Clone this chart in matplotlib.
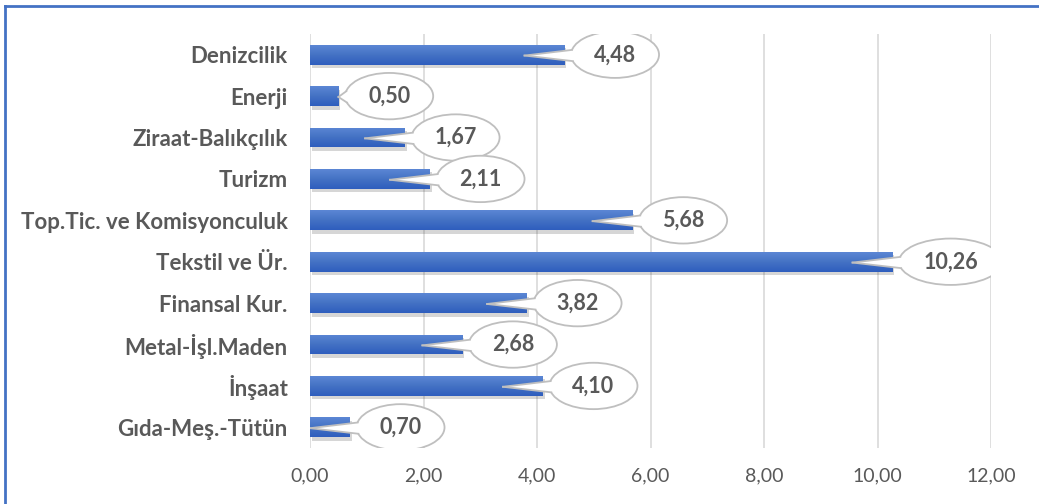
import matplotlib
matplotlib.use("Agg")
import matplotlib.pyplot as plt
import matplotlib.patheffects as pe
from matplotlib.patches import Ellipse, Polygon
from matplotlib.colors import LinearSegmentedColormap
from matplotlib.lines import Line2D
import numpy as np

# data, top to bottom as in the chart
categories = ["Denizcilik", "Enerji", "Ziraat-Balıkçılık", "Turizm",
              "Top.Tic. ve Komisyonculuk", "Tekstil ve Ür.", "Finansal Kur.",
              "Metal-İşl.Maden", "İnşaat", "Gıda-Meş.-Tütün"]
values = [4.48, 0.50, 1.67, 2.11, 5.68, 10.26, 3.82, 2.68, 4.10, 0.70]
xticks = [0, 2, 4, 6, 8, 10, 12]

plt.rcParams['font.family'] = ['Lato', 'DejaVu Sans']

fig = plt.figure(figsize=(10.39, 5.04), dpi=100)
ax = fig.add_axes([0.2984, 0.111, 0.6554, 0.8215])

ypos = np.arange(len(categories))
bars = ax.barh(ypos, values, height=0.48, color="#4270CB", zorder=2)

# vertical gradient inside each bar, light on top, darker at the bottom
grad = LinearSegmentedColormap.from_list("g", ["#5B86D4", "#4472C4", "#2F5EBE"])
for b in bars:
    b.set_path_effects([pe.SimplePatchShadow(offset=(1.5, -2.5), alpha=0.18,
                                             shadow_rgbFace="#202020"), pe.Normal()])
    x0, y0 = b.get_x(), b.get_y()
    im = ax.imshow(np.linspace(0, 1, 32).reshape(-1, 1), cmap=grad, aspect="auto",
                   extent=(x0, x0 + b.get_width(), y0 + b.get_height(), y0),
                   origin="upper", zorder=3)
    im.set_clip_path(b)

ax.set_xlim(0, 12)
ax.set_ylim(len(categories) - 0.5, -0.5)
ax.set_xticks(xticks)
ax.set_xticklabels([f"{t:.2f}".replace(".", ",") for t in xticks])
ax.set_yticks(ypos)
ax.set_yticklabels(categories, fontweight="bold")
ax.tick_params(axis="x", length=0, labelsize=14, colors="#595959", pad=14)
ax.tick_params(axis="y", length=0, labelsize=16, colors="#595959", pad=16)
ax.grid(axis="x", color="#D9D9D9", lw=1.2, zorder=0)
for s in ax.spines.values():
    s.set_visible(False)

# callout bubbles
h = 1.12
for y, v in zip(ypos, values):
    txt = f"{v:.2f}".replace(".", ",")
    w = 1.55 if len(txt) <= 4 else 1.82
    cx = v + 0.12 + w / 2
    tipx = v - 0.7 if v - 0.7 >= 0 else v
    tip = (tipx, y + 0.02)
    a1, a2 = np.radians(168), np.radians(196)
    p1 = (cx + w / 2 * np.cos(a1), y - h / 2 * np.sin(a1))
    p2 = (cx + w / 2 * np.cos(a2), y - h / 2 * np.sin(a2))
    ell = Ellipse((cx, y), w, h, facecolor="white", edgecolor="#BFBFBF", lw=1.3, zorder=4)
    ax.add_patch(ell)
    # white wedge hides the ellipse outline where the pointer joins
    mid = (cx - w / 2 + 0.15, y)
    ax.add_patch(Polygon([tip, p1, mid, p2], closed=True, facecolor="white",
                         edgecolor="none", zorder=5))
    ax.add_line(Line2D([tip[0], p1[0]], [tip[1], p1[1]], color="#BFBFBF", lw=1.3, zorder=6))
    ax.add_line(Line2D([tip[0], p2[0]], [tip[1], p2[1]], color="#BFBFBF", lw=1.3, zorder=6))
    ax.text(cx, y, txt, ha="center", va="center", fontsize=15.5, fontweight="bold",
            color="#595959", zorder=7)

ax.set_xlim(0, 12)
ax.set_ylim(len(categories) - 0.5, -0.5)

# blue frame on top and left edge
fig.add_artist(Line2D([0.005, 1.0], [0.988, 0.988], transform=fig.transFigure,
                      color="#4472C4", lw=2))
fig.add_artist(Line2D([0.005, 0.005], [0.0, 0.988], transform=fig.transFigure,
                      color="#4472C4", lw=2))

fig.savefig("out.png", dpi=100)
